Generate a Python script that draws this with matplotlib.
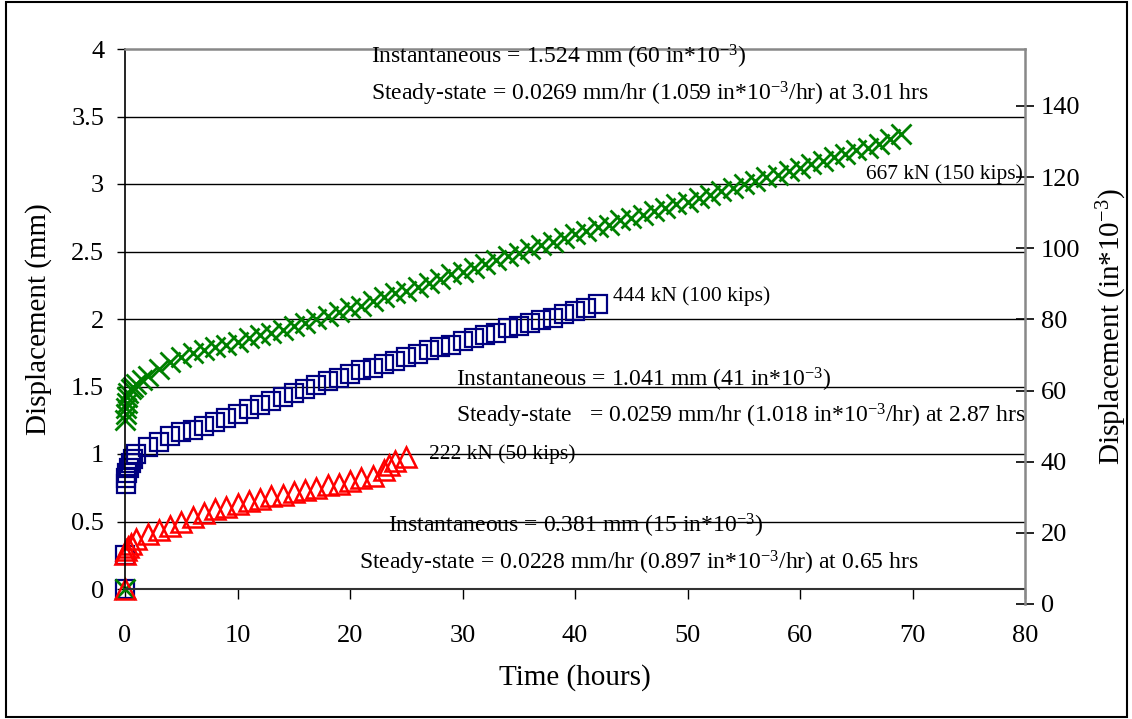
import matplotlib
matplotlib.use('Agg')
import matplotlib.pyplot as plt
from matplotlib.patches import Rectangle

plt.rcParams['font.family'] = ['Liberation Serif', 'DejaVu Serif']
plt.rcParams['mathtext.default'] = 'regular'

# Time (hours) and displacement (mm) for each load level
time_444 = [0, 0.02, 0.05, 0.1, 0.2, 0.35, 0.5, 0.75, 1, 2, 3, 4, 5, 6, 7, 8, 9, 10,
            11, 12, 13, 14, 15, 16, 17, 18, 19, 20, 21, 22, 23, 24, 25, 26, 27, 28,
            29, 30, 31, 32, 33, 34, 35, 36, 37, 38, 39, 40, 41, 42]
disp_444 = [0, 0.25, 0.78, 0.82, 0.86, 0.90, 0.93, 0.96, 1.00, 1.05, 1.09, 1.13, 1.16,
            1.18, 1.21, 1.24, 1.27, 1.30, 1.33, 1.36, 1.39, 1.42, 1.45, 1.48, 1.51,
            1.54, 1.56, 1.59, 1.62, 1.64, 1.67, 1.69, 1.72, 1.74, 1.77, 1.79, 1.81,
            1.84, 1.86, 1.88, 1.90, 1.93, 1.95, 1.97, 1.99, 2.01, 2.04, 2.06, 2.08, 2.11]

time_667 = [0, 0.02, 0.05, 0.1, 0.15, 0.2, 0.3, 0.5, 0.75, 1, 1.5, 2, 3, 4, 5, 6, 7, 8,
            9, 10, 11, 12, 13, 14, 15, 16, 17, 18, 19, 20, 21, 22, 23, 24, 25, 26, 27,
            28, 29, 30, 31, 32, 33, 34, 35, 36, 37, 38, 39, 40, 41, 42, 43, 44, 45, 46,
            47, 48, 49, 50, 51, 52, 53, 54, 55, 56, 57, 58, 59, 60, 61, 62, 63, 64, 65,
            66, 67, 68, 69]
disp_667 = [0, 1.25, 1.30, 1.34, 1.38, 1.42, 1.45, 1.48, 1.50, 1.52, 1.55, 1.58, 1.63,
            1.68, 1.72, 1.75, 1.77, 1.79, 1.81, 1.83, 1.86, 1.88, 1.90, 1.92, 1.95,
            1.97, 2.00, 2.02, 2.05, 2.08, 2.10, 2.13, 2.16, 2.19, 2.21, 2.24, 2.27,
            2.30, 2.33, 2.35, 2.38, 2.41, 2.44, 2.47, 2.49, 2.52, 2.55, 2.57, 2.60,
            2.63, 2.65, 2.68, 2.70, 2.73, 2.75, 2.77, 2.80, 2.82, 2.85, 2.87, 2.90,
            2.92, 2.95, 2.97, 3.00, 3.02, 3.05, 3.07, 3.10, 3.12, 3.15, 3.17, 3.20,
            3.22, 3.25, 3.27, 3.30, 3.33, 3.37]

time_222 = [0, 0.02, 0.1, 0.25, 0.5, 1, 2, 3, 4, 5, 6, 7, 8, 9, 10, 11, 12, 13, 14, 15,
            16, 17, 18, 19, 20, 21, 22, 23, 23.5, 24, 25]
disp_222 = [0, 0.26, 0.29, 0.31, 0.33, 0.37, 0.41, 0.44, 0.47, 0.50, 0.53, 0.56, 0.59,
            0.61, 0.63, 0.65, 0.67, 0.69, 0.70, 0.72, 0.73, 0.75, 0.77, 0.78, 0.80,
            0.82, 0.84, 0.88, 0.92, 0.95, 0.98]

x_ticks = [0, 10, 20, 30, 40, 50, 60, 70, 80]
y_ticks = [0, 0.5, 1, 1.5, 2, 2.5, 3, 3.5, 4]
y2_ticks = [0, 20, 40, 60, 80, 100, 120, 140]

W, H = 1132, 719
fig = plt.figure(figsize=(W / 100, H / 100), dpi=100)
fig.patches.append(Rectangle((6 / W, 2 / H), 1121 / W, 715 / H, transform=fig.transFigure,
                             fill=False, edgecolor='black', linewidth=1.5))

left, right = 125 / W, 1025 / W
ax = fig.add_axes([left, 1 - 589 / H, right - left, (589 - 49) / H])
ax2 = fig.add_axes([left, 1 - 604 / H, right - left, (604 - 49) / H])
ax2.patch.set_alpha(0)

# data
ax.plot(time_444, disp_444, ls='none', marker='s', ms=13, mfc='none', mec='#000080',
        mew=1.6, clip_on=False)
ax.plot(time_667, disp_667, ls='none', marker='x', ms=14, mec='#008000', mew=2,
        clip_on=False)
ax.plot(time_222, disp_222, ls='none', marker='^', ms=14, mfc='none', mec='#ff0000',
        mew=1.8, clip_on=False)

ax.set_xlim(0, 80)
ax.set_ylim(0, 4)
ax.set_xticks(x_ticks)
ax.set_yticks(y_ticks)
ax.set_yticklabels(['0', '0.5', '1', '1.5', '2', '2.5', '3', '3.5', '4'])
for y in y_ticks[1:-1]:
    ax.axhline(y, color='black', lw=1, zorder=0)
ax.tick_params(axis='y', direction='out', length=6, width=1, pad=9, labelsize=19)
ax.tick_params(axis='x', direction='out', length=7, width=1, pad=19, labelsize=19)
ax.spines['top'].set_color('#888888')
ax.spines['top'].set_linewidth(1.8)
ax.spines['right'].set_visible(False)
ax.spines['left'].set_linewidth(1.2)
ax.spines['bottom'].set_linewidth(1.5)
ax.spines['bottom'].set_color('#333333')
ax.set_xlabel('Time (hours)', fontsize=21, labelpad=12)
ax.set_ylabel('Displacement (mm)', fontsize=21, labelpad=14)

# secondary axis in in*10^-3
ax2.set_xlim(0, 80)
ax2.set_ylim(0, 156)
ax2.set_xticks([])
ax2.yaxis.tick_right()
ax2.yaxis.set_label_position('right')
ax2.set_yticks(y2_ticks)
ax2.tick_params(axis='y', direction='inout', length=13, width=1.2, pad=5, labelsize=19)
for s in ['top', 'left', 'bottom']:
    ax2.spines[s].set_visible(False)
ax2.spines['right'].set_color('#888888')
ax2.spines['right'].set_linewidth(1.8)
ax2.set_ylabel('Displacement (in*10$^{-3}$)', fontsize=21, labelpad=10)

# annotations
fs = 17
fl = 15.5
ax.text(21.9, 3.94, 'Instantaneous = 1.524 mm (60 in*10$^{-3}$)', fontsize=fs, va='center')
ax.text(21.9, 3.67, 'Steady-state = 0.0269 mm/hr (1.059 in*10$^{-3}$/hr) at 3.01 hrs',
        fontsize=fs, va='center')
ax.text(65.9, 3.07, '667 kN (150 kips)', fontsize=fl, va='center')
ax.text(43.4, 2.17, '444 kN (100 kips)', fontsize=fl, va='center')
ax.text(29.4, 1.55, 'Instantaneous = 1.041 mm (41 in*10$^{-3}$)', fontsize=fs, va='center')
ax.text(29.4, 1.28, 'Steady-state   = 0.0259 mm/hr (1.018 in*10$^{-3}$/hr) at 2.87 hrs',
        fontsize=fs, va='center')
ax.text(27.0, 1.0, '222 kN (50 kips)', fontsize=fl, va='center')
ax.text(23.4, 0.47, 'Instantaneous = 0.381 mm (15 in*10$^{-3}$)', fontsize=fs, va='center')
ax.text(20.8, 0.195, 'Steady-state = 0.0228 mm/hr (0.897 in*10$^{-3}$/hr) at 0.65 hrs',
        fontsize=fs, va='center')

fig.savefig('out.png', dpi=100)
plt.close()
